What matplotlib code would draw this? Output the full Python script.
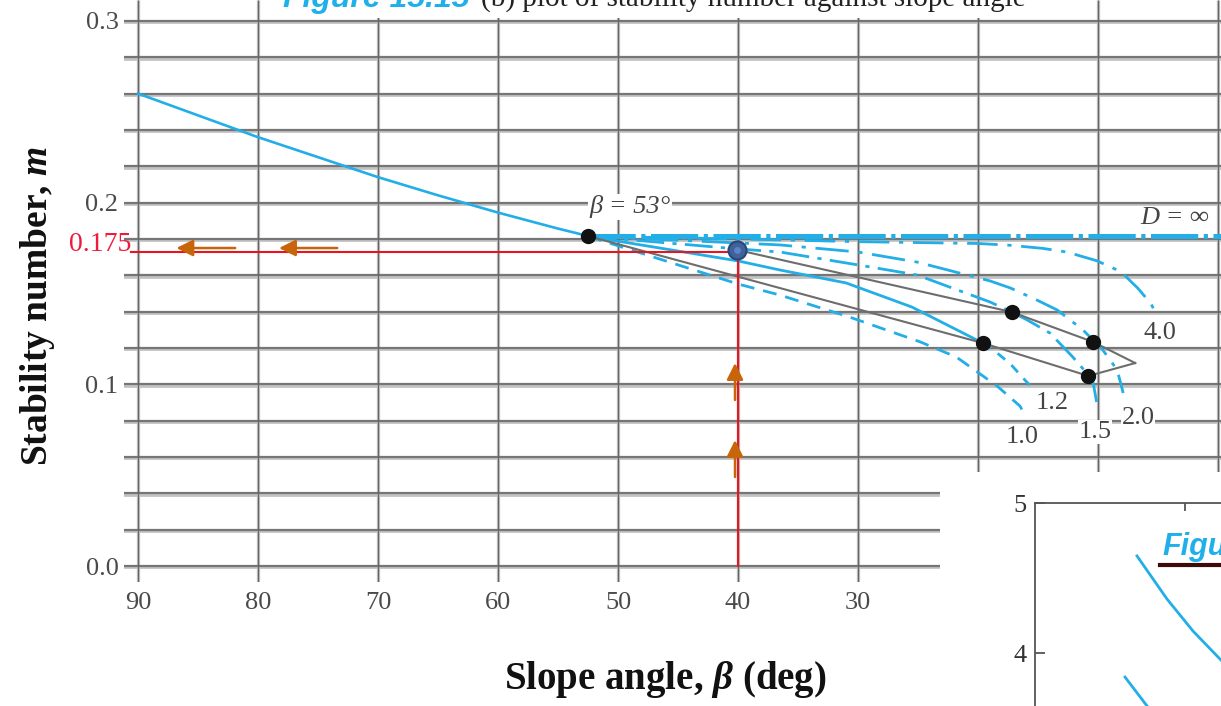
import numpy as np
import matplotlib.pyplot as plt
from matplotlib.patches import Rectangle

plt.rcParams['font.family'] = ['Liberation Serif', 'DejaVu Serif']
plt.rcParams['mathtext.fontset'] = 'custom'
plt.rcParams['mathtext.rm'] = 'Liberation Serif'
plt.rcParams['mathtext.it'] = 'Liberation Serif:italic:bold'
plt.rcParams['mathtext.bf'] = 'Liberation Serif:bold'
plt.rcParams['lines.scale_dashes'] = False

# ---- values ----
x_ticks = [90, 80, 70, 60, 50, 40, 30]
y_ticks = [0.0, 0.1, 0.2, 0.3]
y_ticklabels = ['0.0', '0.1', '0.2', '0.3']

# common curve (beta > 53 deg)
main_beta = [90, 85, 80, 75, 70, 65, 60, 55, 52.5]
main_m = [0.260, 0.248, 0.236, 0.225, 0.214, 0.204, 0.1945, 0.1857, 0.1816]

# depth factor curves
dinf_beta = [52.5, -0.5]
dinf_m = [0.1815, 0.1815]
d4_beta = [52.5, 40, 30, 20, 17.3, 14.6, 12.6, 10.1, 8.1, 6.7, 5.6, 5.25]
d4_m = [0.1815, 0.1800, 0.1785, 0.1775, 0.1765, 0.1748, 0.1728, 0.1680, 0.1620, 0.1530, 0.1445, 0.1400]
d2_beta = [52.5, 40, 36.5, 30, 25.1, 19.0, 17.3, 15.1, 13.4, 11.25, 9.6, 8.4, 7.9]
d2_m = [0.1815, 0.1778, 0.1767, 0.1728, 0.1673, 0.1569, 0.1530, 0.1464, 0.1409, 0.1299, 0.1189, 0.1079, 0.0952]
d15_beta = [52.5, 40, 36.5, 30, 25.1, 19.0, 17.2, 15.9, 14.0, 12.1, 10.8, 10.4, 10.1]
d15_m = [0.1815, 0.1745, 0.1728, 0.1657, 0.1602, 0.1453, 0.1398, 0.1354, 0.1282, 0.1150, 0.1051, 0.1007, 0.0897]
d12_beta = [52.5, 40, 36.5, 31.0, 25.5, 19.6, 18.6, 17.3, 16.1, 15.7]
d12_m = [0.1815, 0.1679, 0.1629, 0.1558, 0.1425, 0.1227, 0.1183, 0.1112, 0.1024, 0.0996]
d10_beta = [52.5, 40, 36.5, 30.7, 24.8, 21.8, 20.1, 18.4, 16.5, 16.2]
d10_m = [0.1815, 0.1552, 0.1491, 0.1370, 0.1233, 0.1150, 0.1070, 0.0990, 0.0880, 0.0845]

curve_labels = ['4.0', '2.0', '1.5', '1.2', '1.0']
label_beta = [4.83, 6.67, 10.25, 13.83, 16.33]
label_m = [0.1282, 0.0815, 0.0737, 0.0897, 0.0710]

# black dots and the construction lines between them
dot_beta = [52.5, 19.6, 17.2, 10.4, 10.8]
dot_m = [0.1816, 0.1227, 0.1398, 0.1233, 0.1046]
upper_beta = [40.1, 17.2, 10.4, 6.9]
upper_m = [0.1740, 0.1398, 0.1233, 0.1117]
lower_beta = [52.5, 19.6, 10.8, 6.9]
lower_m = [0.1816, 0.1227, 0.1046, 0.1117]

# reading for beta = 40 deg
read_beta = 40.0
read_m = 0.173
point_beta, point_m = 40.1, 0.1740
arrow_tail = [(81.9, 0.175), (73.4, 0.175), (40.25, 0.0914), (40.25, 0.049)]
arrow_head = [(86.8, 0.175), (78.25, 0.175), (40.25, 0.1117), (40.25, 0.0693)]

# piece of the next figure (bottom right)
inset_curve1_x = [0.68, 0.88, 1.053, 1.24]
inset_curve1_y = [4.647, 4.36, 4.147, 3.953]
inset_curve2_x = [0.60, 0.747, 0.80]
inset_curve2_y = [3.84, 3.647, 3.58]

W, H = 1221, 706
fig = plt.figure(figsize=(W / 100, H / 100), dpi=100)


def fx(px):
    return px / W


def fy(py):
    return 1 - py / H


ax = fig.add_axes([fx(124), fy(582), 1 - fx(124), 582 / H])
ax.set_xlim(91.17, -0.25)
ax.set_ylim(-0.0088, 0.3115)
for s in ax.spines.values():
    s.set_visible(False)

# grid (thick grey horizontals, thin verticals)
grid_y = np.round(np.arange(0, 0.301, 0.02), 2)
grid_x = np.arange(0, 91, 10)
ax.hlines(grid_y - 0.0008, 91.17, -0.25, color='#c2c2c2', lw=2.7, zorder=1)
ax.hlines(grid_y, 91.17, -0.25, color='#767676', lw=1.6, zorder=1.1)
ax.vlines(grid_x, -0.0088, 0.3115, color='#cacaca', lw=2.4, zorder=1)
ax.vlines(grid_x, -0.0088, 0.3115, color='#666666', lw=1.0, zorder=1.1)

ax.set_xticks(x_ticks)
ax.set_xticklabels([str(t) for t in x_ticks])
ax.set_yticks(y_ticks)
ax.set_yticklabels(y_ticklabels)
ax.tick_params(length=0, labelsize=19, labelcolor='#4a4a4a')
ax.tick_params(axis='x', pad=7)
ax.tick_params(axis='y', pad=4)

cyan = '#22aee6'
ax.plot(main_beta, main_m, color=cyan, lw=1.9, zorder=3)
ax.plot(dinf_beta, dinf_m, color=cyan, lw=3.6, ls=(0, (34, 4, 3, 4)), zorder=3)
ax.plot(d4_beta, d4_m, color=cyan, lw=2.0, ls=(0, (22, 7, 3, 7)), zorder=3)
ax.plot(d2_beta, d2_m, color=cyan, lw=2.0, ls=(0, (24, 7, 3, 7)), zorder=3)
ax.plot(d15_beta, d15_m, color=cyan, lw=2.0, ls=(0, (20, 6, 3, 6)), zorder=3)
ax.plot(d12_beta[:6], d12_m[:6], color=cyan, lw=2.0, zorder=3)
ax.plot(d12_beta[5:], d12_m[5:], color=cyan, lw=2.0, ls=(0, (7, 6)), zorder=3)
ax.plot(d10_beta, d10_m, color=cyan, lw=2.0, ls=(0, (10, 6.5)), zorder=3)

ax.plot(upper_beta, upper_m, color='#6d6d6d', lw=1.5, zorder=3.5)
ax.plot(lower_beta, lower_m, color='#6d6d6d', lw=1.5, zorder=3.5)

for lab, b, m in zip(curve_labels, label_beta, label_m):
    ax.text(b, m, lab, fontsize=19, color='#444444', ha='center', va='center',
            zorder=2.5, bbox=dict(facecolor='white', edgecolor='none', pad=0.5))
ax.text(49.0, 0.1976, 'β = 53°', fontsize=19, style='italic', color='#444444',
        ha='center', va='center', zorder=2.5,
        bbox=dict(facecolor='white', edgecolor='none', pad=1))
ax.text(3.58, 0.1915, 'D = ∞', fontsize=19, style='italic', color='#444444',
        ha='center', va='center', zorder=2.5)

# red construction for beta = 40
ax.plot([90.58, read_beta], [read_m, read_m], color='#e8141e', lw=1.5, zorder=4, clip_on=False)
ax.plot([read_beta, read_beta], [read_m, 0.0], color='#e8141e', lw=1.5, zorder=4)
ax.text(90.58, 0.1768, '0.175', fontsize=20, color='#ee1c3a', ha='right', va='center',
        zorder=4, clip_on=False)

ax.plot(dot_beta, dot_m, 'o', color='#111111', ms=10, zorder=5)
ax.plot(point_beta, point_m, 'o', ms=13, mfc='#3f619c', mec='#2a4676', mew=1.5, zorder=6)
ax.plot(point_beta, point_m, 'o', ms=5, mfc='#5d82c4', mec='none', zorder=6.1)

for t, h in zip(arrow_tail, arrow_head):
    ax.annotate('', xy=h, xytext=t, zorder=6,
                arrowprops=dict(arrowstyle='-|>,head_length=1.0,head_width=0.5',
                                color='#c8650a', lw=1.8, shrinkA=0, shrinkB=0))

# labels
fig.text(fx(38), fy(306), 'Stability number, $m$', rotation=90, fontsize=27,
         fontweight='bold', ha='center', va='center', color='#111111')
fig.text(fx(665), fy(680), r'Slope angle, $\beta$ (deg)', fontsize=28,
         fontweight='bold', ha='center', va='center', color='#111111')

# title strip, cut off by the top edge
fig.add_artist(Rectangle((fx(278), fy(18)), fx(1092) - fx(278), 18 / H,
                         transform=fig.transFigure, facecolor='white',
                         edgecolor='none', zorder=5))
fig.text(fx(283), fy(7), 'Figure 15.15', fontsize=23, family='Liberation Sans',
         fontweight='bold', style='italic', color='#1fb0ea', va='baseline', zorder=6)
fig.text(fx(481), fy(7), '(b) plot of stability number against slope angle', fontsize=21,
         color='#222222', va='baseline', zorder=6)

# bottom right: part of the next figure covering the grid
fig.add_artist(Rectangle((fx(940), 0), 1 - fx(940), (706 - 472) / H,
                         transform=fig.transFigure, facecolor='white',
                         edgecolor='none', zorder=5))
ax2 = fig.add_axes([fx(1035), 0, 1 - fx(1035), 203 / H])
ax2.set_zorder(6)
ax2.set_xlim(0, 1.24)
ax2.set_ylim(3.647, 5)
ax2.spines['right'].set_visible(False)
ax2.spines['bottom'].set_visible(False)
for s in ['left', 'top']:
    ax2.spines[s].set_color('#555555')
    ax2.spines[s].set_linewidth(1.3)
ax2.set_yticks([4, 5])
ax2.set_yticklabels(['4', '5'])
ax2.set_xticks([1.0])
ax2.tick_params(axis='y', direction='in', length=7, width=1.3, color='#555555',
                labelsize=19, labelcolor='#333333', pad=6)
ax2.tick_params(axis='x', top=True, bottom=False, labelbottom=False, direction='in',
                length=6, width=1.3, color='#555555')
ax2.plot(inset_curve1_x, inset_curve1_y, color=cyan, lw=2.0)
ax2.plot(inset_curve2_x, inset_curve2_y, color=cyan, lw=2.0)
ax2.text(0.853, 4.707, 'Figure', fontsize=22, family='Liberation Sans',
         fontweight='bold', style='italic', color='#1fb0ea', va='center')
ax2.plot([0.833, 1.3], [4.587, 4.587], color='#3d0b0b', lw=3, clip_on=True)

fig.savefig('out.png', dpi=100)
